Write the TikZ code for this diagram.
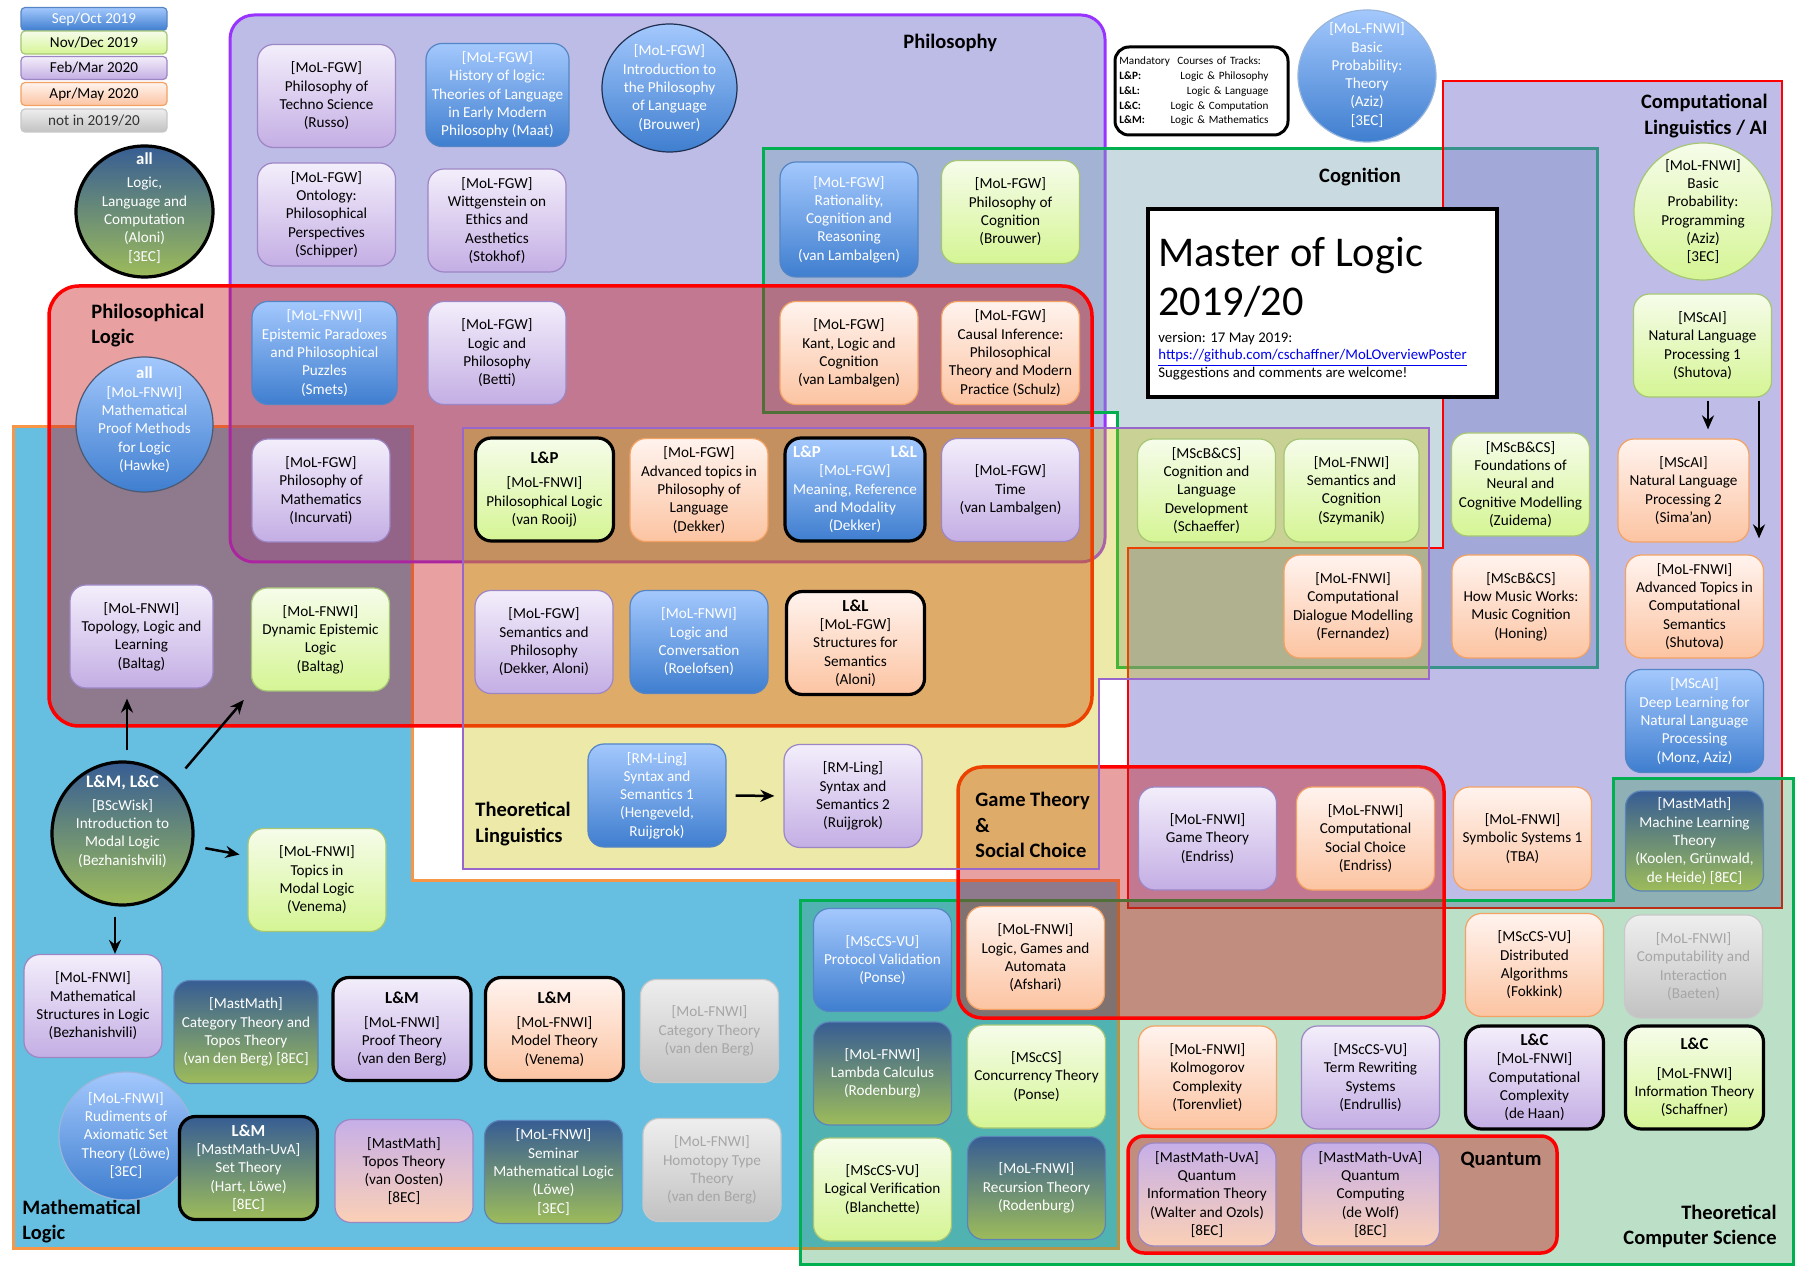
\documentclass[tikz,border=0pt]{standalone}
\usepackage{fontspec}
\setmainfont{Carlito}
\usetikzlibrary{shapes.geometric,arrows.meta}
\definecolor{sepT}{HTML}{A3C8FD}\definecolor{sepB}{HTML}{3F7ECF}\definecolor{sepD}{HTML}{5585C4}
\definecolor{novT}{HTML}{F6FCEA}\definecolor{novB}{HTML}{D5F594}\definecolor{novD}{HTML}{A6C676}
\definecolor{febT}{HTML}{F3EEFB}\definecolor{febB}{HTML}{C4AEE4}\definecolor{febD}{HTML}{9C86C4}
\definecolor{aprT}{HTML}{FFF3EE}\definecolor{aprB}{HTML}{FCC4A2}\definecolor{aprD}{HTML}{F3A264}
\definecolor{notT}{HTML}{EEEEEE}\definecolor{notB}{HTML}{C2C2C2}\definecolor{notD}{HTML}{C8C8C8}\definecolor{notX}{HTML}{A6A6A6}
\definecolor{allT}{HTML}{375D94}\definecolor{allB}{HTML}{9DBC5A}\definecolor{allD}{HTML}{5B84B8}
\definecolor{topT}{HTML}{C6AFE8}\definecolor{topB}{HTML}{FBD0B6}
\definecolor{rML}{HTML}{66BFE0}\definecolor{rPhil}{HTML}{7D7BD1}\definecolor{rCog}{HTML}{7DA7B8}
\definecolor{rCL}{HTML}{7773CE}\definecolor{rTCS}{HTML}{239748}\definecolor{rRed}{HTML}{CA1212}
\definecolor{rTL}{HTML}{CDC100}
\definecolor{bPhil}{HTML}{9933FF}\definecolor{bRed}{HTML}{FF0000}\definecolor{bML}{HTML}{F79646}
\definecolor{bTL}{HTML}{9966CC}\definecolor{bGreen}{HTML}{00B050}\definecolor{linkblue}{HTML}{0000EE}
\definecolor{navy}{HTML}{1F3050}
\newcommand\nodefnt{\fontsize{7.6}{9.15}\selectfont}
\newcommand\crsid[1]{[#1]}
\newcommand\trk[1]{{\bfseries\fontsize{8.4}{9.15}\selectfont #1}}
\begin{document}
\begin{tikzpicture}[x=0.5pt,y=-0.5pt,
  crs/.style={draw, rounded corners=8pt, align=center, inner sep=1pt, font=\nodefnt, minimum width=69pt, minimum height=51.5pt, line width=0.6pt},
  cSep/.style={top color=sepT, bottom color=sepB, draw=sepD, text=white},
  cNov/.style={top color=novT, bottom color=novB, draw=novD},
  cFeb/.style={top color=febT, bottom color=febB, draw=febD},
  cApr/.style={top color=aprT, bottom color=aprB, draw=aprD},
  cNot/.style={top color=notT, bottom color=notB, draw=notD, text=notX},
  cAll/.style={top color=allT, bottom color=allB, draw=allD, text=white},
  cTop/.style={top color=topT, bottom color=topB, draw=febD},
  trkbox/.style={draw=black, line width=1.6pt},
  circ/.style={ellipse, draw, inner sep=0pt, line width=0.6pt},
  ctxt/.style={align=center, inner sep=0pt, font=\nodefnt},
  arr/.style={draw=black, line width=1.25pt, -{Stealth[length=7pt,width=6pt]}},
  rttl/.style={font=\bfseries\fontsize{10.25}{12.6}\selectfont, inner sep=0pt},
  legc/.style={draw, rounded corners=2pt, minimum width=73pt, minimum height=11.5pt, inner sep=0pt, font=\fontsize{7.6}{9}\selectfont, line width=0.6pt}
]
\useasboundingbox (0,0) rectangle (1800,1272);
\fill[white] (0,0) rectangle (1800,1272);

% ---------------- regions ----------------
\path[fill=rML, draw=bML, line width=1.5pt] (13,427) -- (412,427) -- (412,880) -- (1118,880) -- (1118,1248) -- (13,1248) -- cycle;
\path[fill=rPhil, fill opacity=0.5, draw=bPhil, line width=1.5pt, rounded corners=12pt] (230,15) rectangle (1105,562);
\path[fill=rCog, fill opacity=0.41, draw=bGreen, line width=1.5pt] (763,149) -- (1597,149) -- (1597,668) -- (1117,668) -- (1117,413) -- (763,413) -- cycle;
\path[fill=rCL, fill opacity=0.47, draw=bRed, line width=0.7pt] (1443,81) -- (1782,81) -- (1782,908) -- (1128,908) -- (1128,548) -- (1443,548) -- cycle;
\path[fill=rTCS, fill opacity=0.3, draw=bGreen, line width=1.5pt] (800,900) -- (1613,900) -- (1613,779) -- (1793,779) -- (1793,1264) -- (800,1264) -- cycle;
\path[fill=rRed, fill opacity=0.4, draw=bRed, line width=1.75pt, rounded corners=15pt] (49,286) rectangle (1092,726);
\path[fill=rRed, fill opacity=0.4, draw=bRed, line width=1.75pt, rounded corners=12pt] (958,767) rectangle (1444,1018);
\path[fill=rRed, fill opacity=0.4, draw=bRed, line width=1.75pt, rounded corners=8pt] (1128,1136) rectangle (1557,1253);
\path[fill=rTL, fill opacity=0.34, draw=bTL, line width=0.7pt] (463,428) -- (1429,428) -- (1429,679) -- (1099,679) -- (1099,869) -- (463,869) -- cycle;

% ---------------- region titles ----------------
\node[rttl, anchor=west] (tPhil) at (903,43) {Philosophy};
\node[rttl, anchor=west, align=left] (tPL) at (91,325.5) {Philosophical\\Logic};
\node[rttl] (tCog) at (1360,177) {Cognition};
\node[rttl, anchor=east, align=right] (tCL) at (1768,116) {Computational\\Linguistics / AI};
\node[rttl, anchor=west, align=left] (tTL) at (475,824) {Theoretical\\Linguistics};
\node[rttl, anchor=west, align=left] (tGT) at (975,825) {Game Theory\\\&\\Social Choice};
\node[rttl, anchor=west, align=left] (tML) at (22,1221.5) {Mathematical\\Logic};
\node[rttl, anchor=east, align=right] (tTCS) at (1777,1226.5) {Theoretical\\Computer Science};
\node[rttl] (tQ) at (1501,1160) {Quantum};

% ---------------- legend ----------------
\node[legc, cSep] (lg1) at (94,19) {Sep/Oct 2019};
\node[legc, cNov] (lg2) at (94,42.5) {Nov/Dec 2019};
\node[legc, cFeb] (lg3) at (94,68) {Feb/Mar 2020};
\node[legc, cApr] (lg4) at (94,94) {Apr/May 2020};
\node[legc, cNot, text=black!80] (lg5) at (94,120.5) {not in 2019/20};

\node[draw=black, fill=white, line width=1.5pt, rounded corners=7pt, minimum width=86.5pt, minimum height=44pt] (mand) at (1201.5,91) {};
\node[anchor=west, inner sep=0pt, text width=74.5pt, align=left, font=\fontsize{5.6}{7.37}\selectfont] (mandtxt) at (1119,91.5)
 {Mandatory\ \ Courses of Tracks:\\\textbf{L\&P:}\hfill Logic \& Philosophy\\\textbf{L\&L:}\hfill Logic \& Language\\\textbf{L\&C:}\hfill Logic \& Computation\\\textbf{L\&M:}\hfill Logic \& Mathematics};

\node[draw=black, fill=white, line width=1.75pt, minimum width=174.5pt, minimum height=94pt] (master) at (1322.5,303) {};
\node[anchor=base west, inner sep=0pt, font=\fontsize{21.2}{24}\selectfont] (mt1) at (1158,267) {Master of Logic};
\node[anchor=base west, inner sep=0pt, font=\fontsize{21.2}{24}\selectfont] (mt2) at (1158,316) {2019/20};
\node[anchor=base west, inner sep=0pt, font=\fontsize{7.4}{9}\selectfont] (mver) at (1158,343) {version: 17 May 2019:};
\node[anchor=base west, inner sep=0pt, font=\fontsize{7.4}{9}\selectfont, text=linkblue] (mlink) at (1158,360) {\underline{https://github.com/cschaffner/MoLOverviewPoster}};
\node[anchor=base west, inner sep=0pt, font=\fontsize{7.4}{9}\selectfont] (msug) at (1158,378) {Suggestions and comments are welcome!};

% ---------------- circles ----------------
\node[circ, cAll, draw=black, line width=1.6pt, minimum width=68.5pt, minimum height=65.5pt] (cllc) at (144.5,211.5) {};
\node[ctxt, text=white] (cllct) at (144.5,208) {\trk{all}\\[2.5pt]Logic,\\Language and\\Computation\\(Aloni)\\\crsid{3EC}};
\node[circ, cSep, draw=navy, minimum width=67.5pt, minimum height=64pt] (cphil) at (669.5,88) {};
\node[ctxt, text=white] (cphilt) at (669.5,88) {\crsid{MoL-FGW}\\Introduction to\\the Philosophy\\of Language\\(Brouwer)};
\node[circ, cSep, draw=navy!80, minimum width=68.5pt, minimum height=67.5pt] (chawke) at (144.5,424.5) {};
\node[ctxt, text=white] (chawket) at (144.5,419.5) {\trk{all}\\[0.5pt]\crsid{MoL-FNWI}\\Mathematical\\Proof Methods\\for Logic\\(Hawke)};
\node[circ, cAll, draw=black, line width=1.6pt, minimum width=70.5pt, minimum height=71.5pt] (cmodal) at (122.5,833.5) {};
\node[ctxt, text=white] (cmodalt) at (122.5,821.5) {{\bfseries\fontsize{8.8}{9.15}\selectfont L\&M, L\&C}\\[2pt]\crsid{BScWisk}\\Introduction to\\Modal Logic\\(Bezhanishvili)};
\node[circ, cSep, draw=sepD!60, minimum width=67pt, minimum height=64pt] (cset) at (126,1136) {};
\node[ctxt, text=white] (csett) at (126,1135.5) {\crsid{MoL-FNWI}\\Rudiments of\\Axiomatic Set\\Theory (Löwe)\\\crsid{3EC}};
\node[circ, cSep, draw=sepD!60, minimum width=69pt, minimum height=66pt] (cprobt) at (1367,76) {};
\node[ctxt, text=white] (cprobtt) at (1367,75) {\crsid{MoL-FNWI}\\Basic\\Probability:\\Theory\\(Aziz)\\\crsid{3EC}};
\node[circ, cNov, minimum width=69pt, minimum height=68.5pt] (cprobp) at (1703,211.5) {};
\node[ctxt] (cprobpt) at (1703,211.5) {\crsid{MoL-FNWI}\\Basic\\Probability:\\Programming\\(Aziz)\\\crsid{3EC}};

% ---------------- course boxes ----------------
\node[crs, cFeb] (n1) at (326.5,96) {\crsid{MoL-FGW}\\Philosophy of\\Techno Science\\(Russo)};
\node[crs, cSep, minimum width=71.5pt] (n2) at (497.5,95) {\crsid{MoL-FGW}\\History of logic:\\Theories of Language\\in Early Modern\\Philosophy (Maat)};
\node[crs, cFeb] (n4) at (326.5,214.5) {\crsid{MoL-FGW}\\Ontology:\\Philosophical\\Perspectives\\(Schipper)};
\node[crs, cFeb] (n5) at (497,220.5) {\crsid{MoL-FGW}\\Wittgenstein on\\Ethics and\\Aesthetics\\(Stokhof)};
\node[crs, cSep, minimum width=72.5pt] (n6) at (324.5,353) {\crsid{MoL-FNWI}\\Epistemic Paradoxes\\and Philosophical\\Puzzles\\(Smets)};
\node[crs, cFeb] (n7) at (497,353) {\crsid{MoL-FGW}\\Logic and\\Philosophy\\(Betti)};
\node[crs, cSep, minimum height=57.5pt] (n8) at (849,219.5) {\crsid{MoL-FGW}\\Rationality,\\Cognition and\\Reasoning\\(van Lambalgen)};
\node[crs, cNov] (n9) at (1010.5,212) {\crsid{MoL-FGW}\\Philosophy of\\Cognition\\(Brouwer)};
\node[crs, cApr] (n10) at (849,353) {\crsid{MoL-FGW}\\Kant, Logic and\\Cognition\\(van Lambalgen)};
\node[crs, cApr] (n11) at (1010.5,353) {\crsid{MoL-FGW}\\Causal Inference:\\Philosophical\\Theory and Modern\\Practice (Schulz)};
\node[crs, cFeb] (n13) at (321,490.5) {\crsid{MoL-FGW}\\Philosophy of\\Mathematics\\(Incurvati)};
\node[crs, cFeb, minimum width=71.5pt] (n14) at (141.5,636.5) {\crsid{MoL-FNWI}\\Topology, Logic and\\Learning\\(Baltag)};
\node[crs, cNov] (n15) at (320.5,639.5) {\crsid{MoL-FNWI}\\Dynamic Epistemic\\Logic\\(Baltag)};
\node[crs, cNov] (n17) at (317,880) {\crsid{MoL-FNWI}\\Topics in\\Modal Logic\\(Venema)};
\node[crs, cFeb] (n18) at (93,1006) {\crsid{MoL-FNWI}\\Mathematical\\Structures in Logic\\(Bezhanishvili)};
\node[crs, cAll, minimum width=72pt] (n19) at (246,1032) {\crsid{MastMath}\\Category Theory and\\Topos Theory\\(van den Berg) \crsid{8EC}};
\node[crs, cFeb, trkbox] (n20) at (402,1029) {\trk{L\&M}\\[3pt]\crsid{MoL-FNWI}\\Proof Theory\\(van den Berg)};
\node[crs, cApr, trkbox] (n21) at (554.5,1029) {\trk{L\&M}\\[3pt]\crsid{MoL-FNWI}\\Model Theory\\(Venema)};
\node[crs, cNot] (n22) at (709.5,1031) {\crsid{MoL-FNWI}\\Category Theory\\(van den Berg)};
\node[crs, cAll, trkbox] (n24) at (248.5,1168) {\trk{L\&M}\\\crsid{MastMath-UvA}\\Set Theory\\(Hart, Löwe)\\\crsid{8EC}};
\node[crs, cTop] (n25) at (404,1171) {\crsid{MastMath}\\Topos Theory\\(van Oosten)\\\crsid{8EC}};
\node[crs, cAll] (n26) at (553.5,1172) {\crsid{MoL-FNWI}\\Seminar\\Mathematical Logic\\(Löwe)\\\crsid{3EC}};
\node[crs, cNot] (n27) at (712,1170) {\crsid{MoL-FNWI}\\Homotopy Type\\Theory\\(van den Berg)};
\node[crs, cNov, trkbox] (n28) at (544.5,489.5) {\trk{L\&P}\\[3pt]\crsid{MoL-FNWI}\\Philosophical Logic\\(van Rooij)};
\node[crs, cApr] (n29) at (699,490) {\crsid{MoL-FGW}\\Advanced topics in\\Philosophy of\\Language\\(Dekker)};
\node[crs, cSep, trkbox, minimum width=70pt] (n30) at (855,489.5) {\makebox[62pt]{\trk{L\&P}\hfill\trk{L\&L}}\\\crsid{MoL-FGW}\\Meaning, Reference\\and Modality\\(Dekker)};
\node[crs, cFeb] (n31) at (1010.5,490) {\crsid{MoL-FGW}\\Time\\(van Lambalgen)};
\node[crs, cFeb] (n32) at (544,642) {\crsid{MoL-FGW}\\Semantics and\\Philosophy\\(Dekker, Aloni)};
\node[crs, cSep] (n33) at (699,642) {\crsid{MoL-FNWI}\\Logic and\\Conversation\\(Roelofsen)};
\node[crs, cApr, trkbox] (n34) at (855.5,643) {\trk{L\&L}\\\crsid{MoL-FGW}\\Structures for\\Semantics\\(Aloni)};
\node[crs, cSep] (n35) at (657,795.5) {\crsid{RM-Ling}\\Syntax and\\Semantics 1\\(Hengeveld,\\Ruijgrok)};
\node[crs, cFeb] (n36) at (853,796) {\crsid{RM-Ling}\\Syntax and\\Semantics 2\\(Ruijgrok)};
\node[crs, cNov] (n37) at (1206.5,490.5) {\crsid{MScB\&CS}\\Cognition and\\Language\\Development\\(Schaeffer)};
\node[crs, cNov, minimum width=67.5pt] (n38) at (1351.5,490.5) {\crsid{MoL-FNWI}\\Semantics and\\Cognition\\(Szymanik)};
\node[crs, cNov] (n39) at (1520.5,484.5) {\crsid{MScB\&CS}\\Foundations of\\Neural and\\Cognitive Modelling\\(Zuidema)};
\node[crs, cApr] (n40) at (1353,606.5) {\crsid{MoL-FNWI}\\Computational\\Dialogue Modelling\\(Fernandez)};
\node[crs, cApr] (n41) at (1521,606.5) {\crsid{MScB\&CS}\\How Music Works:\\Music Cognition\\(Honing)};
\node[crs, cNov] (n43) at (1702.5,345.5) {\crsid{MScAI}\\Natural Language\\Processing 1\\(Shutova)};
\node[crs, cApr, minimum width=65.5pt] (n44) at (1683.5,490.5) {\crsid{MScAI}\\Natural Language\\Processing 2\\(Sima’an)};
\node[crs, cApr] (n45) at (1694.5,606.5) {\crsid{MoL-FNWI}\\Advanced Topics in\\Computational\\Semantics\\(Shutova)};
\node[crs, cSep] (n46) at (1694.5,721) {\crsid{MScAI}\\Deep Learning for\\Natural Language\\Processing\\(Monz, Aziz)};
\node[crs, cAll, minimum height=50pt] (n47) at (1694.5,841) {\crsid{MastMath}\\Machine Learning\\Theory\\(Koolen, Grünwald,\\de Heide) \crsid{8EC}};
\node[crs, cFeb] (n48) at (1207.5,838.5) {\crsid{MoL-FNWI}\\Game Theory\\(Endriss)};
\node[crs, cApr] (n49) at (1365.5,838.5) {\crsid{MoL-FNWI}\\Computational\\Social Choice\\(Endriss)};
\node[crs, cApr] (n50) at (1522.5,838.5) {\crsid{MoL-FNWI}\\Symbolic Systems 1\\(TBA)};
\node[crs, cSep] (n51) at (882.5,960) {\crsid{MScCS-VU}\\Protocol Validation\\(Ponse)};
\node[crs, cApr] (n52) at (1035.5,958) {\crsid{MoL-FNWI}\\Logic, Games and\\Automata\\(Afshari)};
\node[crs, cAll] (n53) at (882.5,1073.5) {\crsid{MoL-FNWI}\\Lambda Calculus\\(Rodenburg)};
\node[crs, cNov] (n54) at (1036.5,1076.5) {\crsid{MScCS}\\Concurrency Theory\\(Ponse)};
\node[crs, cNov] (n55) at (882.5,1189.5) {\crsid{MScCS-VU}\\Logical Verification\\(Blanchette)};
\node[crs, cAll] (n56) at (1036.5,1188) {\crsid{MoL-FNWI}\\Recursion Theory\\(Rodenburg)};
\node[crs, cApr] (n57) at (1534.5,965) {\crsid{MScCS-VU}\\Distributed\\Algorithms\\(Fokkink)};
\node[crs, cNot] (n58) at (1693.5,966.5) {\crsid{MoL-FNWI}\\Computability and\\Interaction\\(Baeten)};
\node[crs, cApr] (n59) at (1207.5,1077.5) {\crsid{MoL-FNWI}\\Kolmogorov\\Complexity\\(Torenvliet)};
\node[crs, cFeb] (n60) at (1370.5,1077.5) {\crsid{MScCS-VU}\\Term Rewriting\\Systems\\(Endrullis)};
\node[crs, cFeb, trkbox] (n61) at (1534.5,1077.5) {\trk{L\&C}\\\crsid{MoL-FNWI}\\Computational\\Complexity\\(de Haan)};
\node[crs, cNov, trkbox] (n62) at (1694.5,1077.5) {\trk{L\&C}\\[5pt]\crsid{MoL-FNWI}\\Information Theory\\(Schaffner)};
\node[crs, cTop] (n63) at (1207,1194.5) {\crsid{MastMath-UvA}\\Quantum\\Information Theory\\(Walter and Ozols)\\\crsid{8EC}};
\node[crs, cTop] (n64) at (1370.5,1194.5) {\crsid{MastMath-UvA}\\Quantum\\Computing\\(de Wolf)\\\crsid{8EC}};

% ---------------- arrows ----------------
\coordinate (ax1) at (127,0);
\coordinate (ax2) at (115,0);
\coordinate (ax3) at (1708,0);
\coordinate (ax4) at (1759,0);
\draw[arr, shorten <=5pt, shorten >=5pt] (cmodal.north -| ax1) -- (n14.south -| ax1);
\draw[arr, shorten <=9pt, shorten >=5.5pt] (cmodal.45) -- (n15.south west);
\draw[arr, shorten <=6pt, shorten >=4pt] (cmodal.350) -- ([yshift=12pt]n17.west);
\draw[arr, shorten <=5pt] (cmodal.south -| ax2) -- (n18.north -| ax2);
\draw[arr, shorten <=4.5pt, shorten >=4.5pt] (n35.east) -- (n36.west);
\draw[arr, shorten <=1.5pt, shorten >=4.5pt] (n43.south -| ax3) -- (n44.north -| ax3);
\draw[arr, shorten <=1.5pt, shorten >=8pt] (n43.south -| ax4) -- (n45.north -| ax4);
\end{tikzpicture}
\end{document}
